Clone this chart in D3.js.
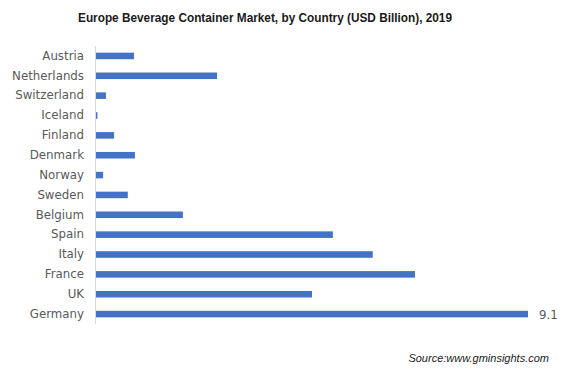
<!DOCTYPE html>
<html><head><meta charset="utf-8">
<script src="https://cdn.jsdelivr.net/npm/d3@7"></script>
<style>body{margin:0;background:#fff}</style>
</head><body>
<svg id="c" width="585" height="380"></svg>
<script>
const countries = ["Austria","Netherlands","Switzerland","Iceland","Finland","Denmark","Norway","Sweden","Belgium","Spain","Italy","France","UK","Germany"];
const values = [0.80,2.55,0.21,0.03,0.38,0.82,0.15,0.67,1.83,4.99,5.83,6.72,4.55,9.1];
const labelled = ["Germany"];

const svg = d3.select("#c");
const x = d3.scaleLinear().domain([0, 9.1]).range([96, 528]);
const y = d3.scaleBand().domain(countries).range([46, 324]).paddingInner(0.67).paddingOuter(0.335);

svg.append("text").attr("x", 78).attr("y", 22)
  .attr("font-family","Liberation Sans, Arial, sans-serif").attr("font-weight","bold")
  .attr("font-size",13).attr("fill","#1a1a1a")
  .attr("textLength",374).attr("lengthAdjust","spacingAndGlyphs")
  .text("Europe Beverage Container Market, by Country (USD Billion), 2019");

svg.selectAll("rect.bar").data(countries).join("rect").attr("class","bar")
  .attr("x", x(0)).attr("y", d => y(d))
  .attr("width", (d,i) => x(values[i]) - x(0)).attr("height", y.bandwidth())
  .attr("fill","#4472C4");

const ax = svg.append("g").attr("transform","translate(95.5,0)")
  .call(d3.axisLeft(y).tickSize(0).tickPadding(11.5));
ax.select(".domain").attr("stroke","#d9d9d9").attr("d","M0,46V324");
ax.selectAll("text").attr("font-family","DejaVu Sans, Verdana, sans-serif").attr("font-size",11.8).attr("fill","#595959");

svg.selectAll("text.val").data(countries.filter(c => labelled.includes(c))).join("text").attr("class","val")
  .attr("x", d => x(values[countries.indexOf(d)]) + 11).attr("y", d => y(d) + y.bandwidth()/2 + 4.5)
  .attr("font-family","DejaVu Sans, Verdana, sans-serif").attr("font-size",11.8).attr("fill","#595959")
  .text(d => values[countries.indexOf(d)]);

svg.append("text").attr("x", 549).attr("y", 362).attr("text-anchor","end")
  .attr("font-family","Liberation Sans, Arial, sans-serif").attr("font-style","italic")
  .attr("font-size",11).attr("fill","#1a1a1a").text("Source:www.gminsights.com");
</script>
</body></html>
